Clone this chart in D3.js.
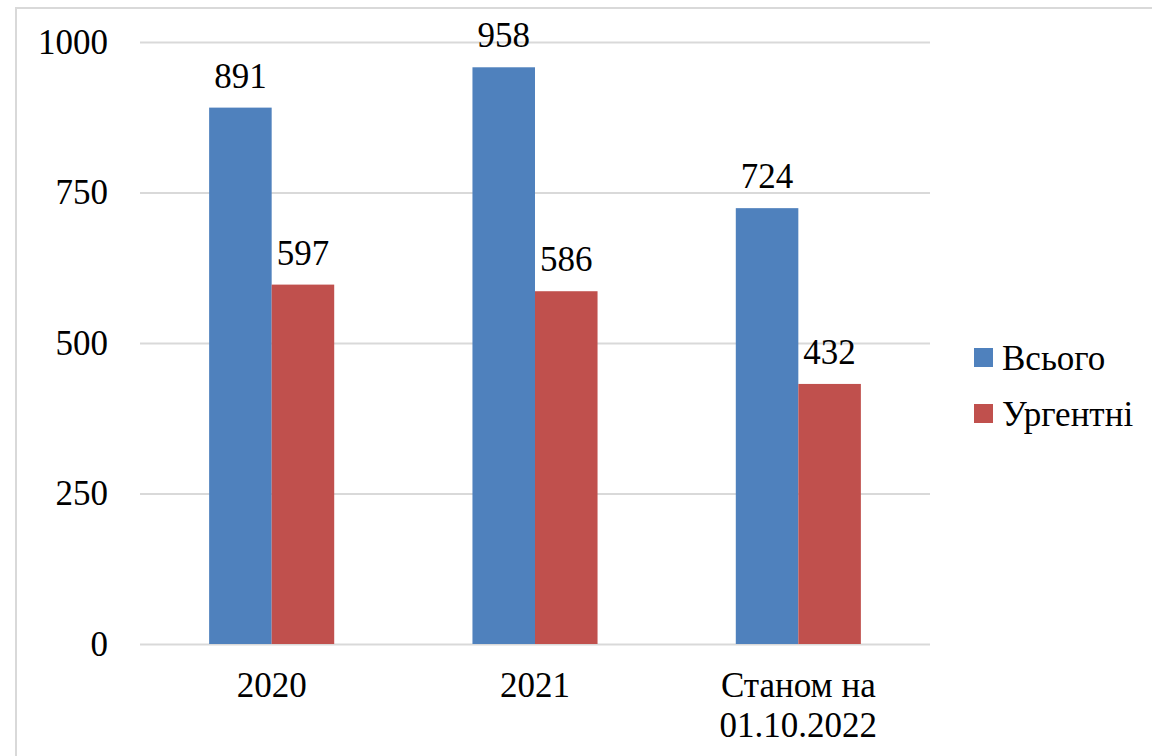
<!DOCTYPE html>
<html>
<head>
<meta charset="utf-8">
<script src="https://cdn.jsdelivr.net/npm/d3@7"></script>
</head>
<body style="margin:0">
<svg id="chart" width="1152" height="756" style="font-family: 'Times New Roman', 'Liberation Serif', serif; font-size: 35px;"></svg>
<script>
// Categories (each label may span several lines)
const categories = ["2020", "2021", "Станом на\n01.10.2022"];
const seriesNames = ["Всього", "Ургентні"];
const totalValues = [891, 958, 724];
const urgentValues = [597, 586, 432];
const yTicks = [0, 250, 500, 750, 1000];
const colors = ["#4F81BD", "#C0504D"];

const series = [totalValues, urgentValues];

const svg = d3.select("#chart");
const W = 1152, H = 756;
const plot = { left: 140, right: 930, top: 42, bottom: 644 };

// Outer frame of the chart area
svg.append("rect")
  .attr("x", 16).attr("y", 8)
  .attr("width", W).attr("height", H)
  .attr("fill", "none")
  .attr("stroke", "#D9D9D9")
  .attr("stroke-width", 2);

const x = d3.scaleBand()
  .domain(categories)
  .range([plot.left, plot.right])
  .paddingInner(0.525)
  .paddingOuter(0.2625);

const xSub = d3.scaleBand()
  .domain(d3.range(series.length))
  .range([0, x.bandwidth()]);

const y = d3.scaleLinear()
  .domain([0, 1000])
  .range([plot.bottom, plot.top]);

// Y axis with horizontal gridlines; text styling inherits from the svg root
const yAxis = svg.append("g")
  .attr("transform", `translate(${plot.left},0)`)
  .call(d3.axisLeft(y)
    .tickValues(yTicks)
    .tickSize(-(plot.right - plot.left))
    .tickPadding(32)
    .tickFormat(d3.format("d")));
yAxis.attr("font-family", null).attr("font-size", null);
yAxis.select(".domain").remove();
yAxis.selectAll(".tick line")
  .attr("stroke", "#D9D9D9")
  .attr("stroke-width", 2);
yAxis.selectAll(".tick text")
  .attr("dy", null)
  .attr("y", 11)
  .attr("fill", "#000");

// X axis category labels, split over lines
const xAxis = svg.append("g")
  .attr("transform", `translate(0,${plot.bottom})`)
  .call(d3.axisBottom(x).tickSize(0).tickFormat(""));
xAxis.attr("font-family", null).attr("font-size", null);
xAxis.select(".domain").remove();
xAxis.selectAll(".tick text").remove();
xAxis.selectAll(".tick").each(function(d) {
  const t = d3.select(this).append("text")
    .attr("text-anchor", "middle")
    .attr("fill", "#000");
  d.split("\n").forEach((ln, i) => {
    t.append("tspan").attr("x", 0).attr("y", 53 + i * 40).text(ln);
  });
});

// Bars with value labels
const groups = svg.append("g")
  .selectAll("g")
  .data(series)
  .join("g");

groups.each(function(vals, si) {
  const g = d3.select(this);
  g.selectAll("rect")
    .data(vals)
    .join("rect")
    .attr("fill", colors[si])
    .attr("x", (d, i) => x(categories[i]) + xSub(si))
    .attr("y", d => y(d))
    .attr("width", xSub.bandwidth())
    .attr("height", d => y(0) - y(d));
  g.selectAll("text")
    .data(vals)
    .join("text")
    .attr("x", (d, i) => x(categories[i]) + xSub(si) + xSub.bandwidth() / 2)
    .attr("y", d => y(d) - 20)
    .attr("text-anchor", "middle")
    .attr("fill", "#000")
    .text(d => d);
});

// Legend
const legend = svg.append("g").attr("transform", "translate(974,348)");
seriesNames.forEach((name, i) => {
  const row = legend.append("g").attr("transform", `translate(0,${i * 56})`);
  row.append("rect")
    .attr("width", 19).attr("height", 19)
    .attr("fill", colors[i]);
  row.append("text")
    .attr("x", 28).attr("y", 22)
    .attr("fill", "#000")
    .text(name);
});
</script>
</body>
</html>
